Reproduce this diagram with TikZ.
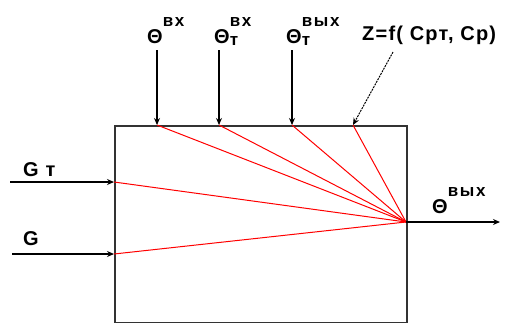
\documentclass[tikz,border=0pt]{standalone}
\usepackage{fontspec}
\setmainfont{Liberation Sans}
\usetikzlibrary{arrows.meta}

\newcommand\supsz{\fontsize{17}{17}\selectfont\addfontfeature{LetterSpace=10}}
\newcommand\tsym[2]{Θ\makebox[0pt][l]{\raisebox{0.82em}{\supsz #1}}\raisebox{-0.12em}{\supsz #2}}

\begin{document}
\begin{tikzpicture}[x=1pt, y=-1pt,
		blok/.style={
			draw=black!80,
			line width=2pt,
			minimum width=292pt,
			minimum height=197pt,
			inner sep=0pt,
			anchor=north west,
		},
		vhod/.style={
			line width=1.3pt,
			-{Stealth[length=7pt, width=6pt]},
		},
		svyaz/.style={
			red,
			line width=1pt,
		},
		lbl/.style={
			font=\fontsize{20}{24}\selectfont\bfseries\addfontfeature{LetterSpace=6},
			inner sep=0pt,
			anchor=base west,
		}
	]
	\useasboundingbox (0,0) rectangle (506,322);

		% Bloc
		\node[blok] (blok) at (114,125) {};

		% Points sur le bloc
		\coordinate (t1) at (157,125);
		\coordinate (t2) at (219,125);
		\coordinate (t3) at (292,125);
		\coordinate (t4) at (353,125);
		\coordinate (l1) at (114,182);
		\coordinate (l2) at (114,254);
		\coordinate (c) at (406,222);

		% Extremites libres
		\coordinate (a1) at (157,50);
		\coordinate (a2) at (219,50);
		\coordinate (a3) at (292,50);
		\coordinate (a4) at (393,52);
		\coordinate (b1) at (10,182);
		\coordinate (b2) at (12,254);
		\coordinate (out) at (500,222);

		% Textes
		\node[lbl] (th1) at (147,43) {\tsym{вх}{}};
		\node[lbl] (th2) at (214,43) {\tsym{вх}{т}};
		\node[lbl] (th3) at (286,43) {\tsym{вых}{т}};
		\node[lbl] (th4) at (432,213) {\tsym{вых}{}};
		\node[lbl] (z) at (362,40) {Z=f( Срт, Ср)};
		\node[lbl] (gt) at (23,176) {G т};
		\node[lbl] (g) at (23,245) {G};

		% Liaisons internes
		\foreach \p in {t1,t2,t3,t4,l1,l2}
			\draw[svyaz] (\p) -- (c);

		% Entrees et sortie
		\draw[vhod] (a1) -- (t1);
		\draw[vhod] (a2) -- (t2);
		\draw[vhod] (a3) -- (t3);
		\draw[vhod, line width=1pt, dash pattern=on 2pt off 1pt] (a4) -- (t4);
		\draw[vhod] (b1) -- (l1);
		\draw[vhod] (b2) -- (l2);
		\draw[vhod] (c) -- (out);

	\end{tikzpicture}
\end{document}
